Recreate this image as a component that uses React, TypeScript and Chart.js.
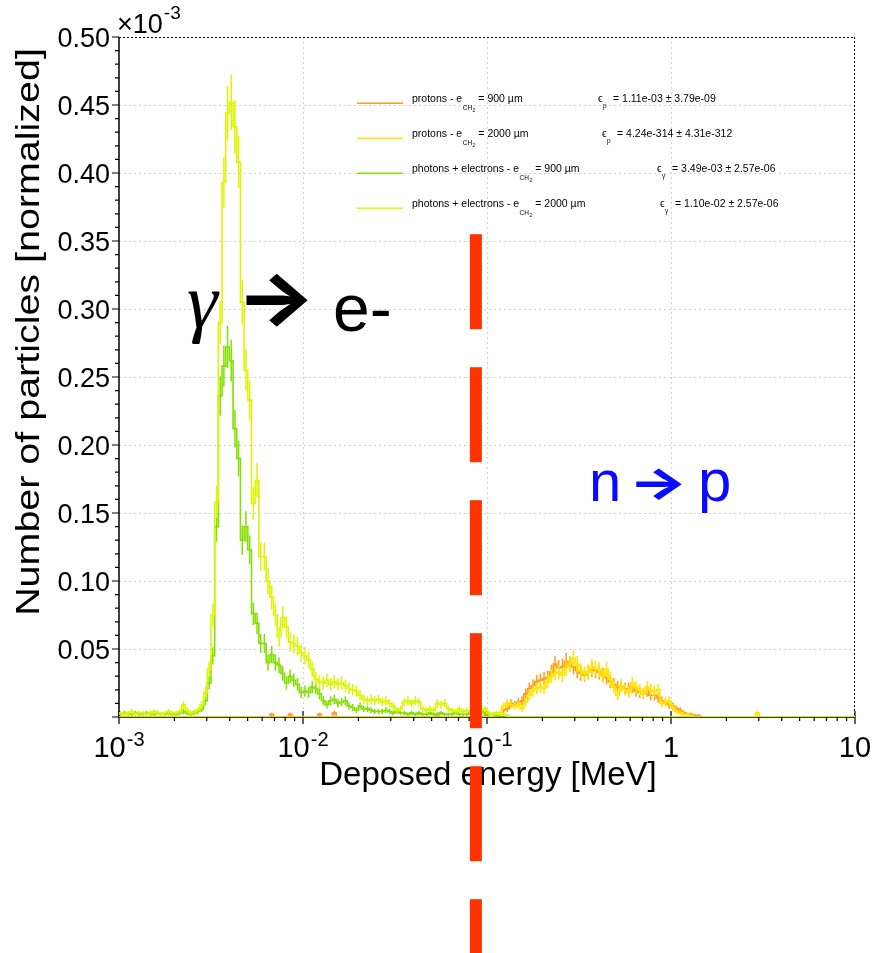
import React, { useEffect, useRef } from "react";
import { Chart, registerables } from "chart.js";

Chart.register(...registerables);

// ---- Histogram binning (log energy, MeV) ----
const LOG_E_MIN = -3;
const BINS_PER_DECADE = 50;
const N_BINS = 200;

// ---- Series values (x1e-3, normalized), one value per bin starting at *Start ----
const photons2000Start = 0;
const photons2000 = [
  0.003, 0.002, 0.003, 0.004, 0.002, 0.003, 0.003, 0.002, 0.003, 0.004,
  0.003, 0.002, 0.003, 0.004, 0.003, 0.003, 0.004, 0.009, 0.005, 0.003,
  0.004, 0.005, 0.009, 0.018, 0.035, 0.075, 0.158, 0.29, 0.393, 0.444,
  0.452, 0.434, 0.408, 0.305, 0.255, 0.233, 0.157, 0.174, 0.118, 0.118,
  0.1, 0.088, 0.075, 0.059, 0.073, 0.066, 0.055, 0.054, 0.052, 0.047,
  0.045, 0.042, 0.035, 0.028, 0.026, 0.025, 0.027, 0.024, 0.026, 0.024,
  0.025, 0.023, 0.021, 0.02, 0.019, 0.016, 0.013, 0.012, 0.013, 0.012,
  0.013, 0.011, 0.012, 0.01, 0.008, 0.005, 0.006, 0.011, 0.012, 0.01,
  0.012, 0.011, 0.006, 0.005, 0.006, 0.005, 0.01, 0.009, 0.01, 0.006,
  0.005, 0.004, 0.006, 0.004, 0.005, 0.004, 0.003, 0.004, 0.005, 0.006,
  0.003, 0.002, 0.003, 0.002, 0.002, 0.001,
];

const photons900Start = 0;
const photons900 = [
  0.002, 0.003, 0.002, 0.002, 0.003, 0.002, 0.002, 0.003, 0.002, 0.002,
  0.003, 0.002, 0.002, 0.003, 0.002, 0.002, 0.003, 0.004, 0.003, 0.002,
  0.003, 0.004, 0.006, 0.012, 0.025, 0.045, 0.14, 0.236, 0.258, 0.272,
  0.262, 0.212, 0.19, 0.13, 0.14, 0.123, 0.076, 0.069, 0.054, 0.054,
  0.04, 0.046, 0.04, 0.038, 0.032, 0.025, 0.03, 0.027, 0.024, 0.018,
  0.019, 0.018, 0.022, 0.021, 0.017, 0.012, 0.009, 0.012, 0.013, 0.01,
  0.011, 0.012, 0.008, 0.007, 0.005, 0.008, 0.006, 0.006, 0.005, 0.004,
  0.004, 0.004, 0.005, 0.004, 0.003, 0.004, 0.003, 0.003, 0.002, 0.003,
  0.002, 0.003, 0.002, 0.002, 0.003, 0.002, 0.002, 0.003, 0.002, 0.002,
  0.002, 0.003, 0.002, 0.002, 0.002, 0.003, 0.002, 0.003, 0.004, 0.003,
  0.002, 0.002, 0.001,
];

const protons900Start = 40;
const protons900 = [
  0, 0.002, 0, 0, 0, 0, 0.002, 0, 0, 0,
  0, 0, 0, 0, 0.002, 0, 0, 0, 0.003, 0,
  0, 0, 0, 0, 0, 0, 0, 0, 0, 0,
  0, 0, 0, 0, 0, 0, 0, 0, 0, 0,
  0, 0, 0, 0, 0, 0, 0.002, 0, 0, 0,
  0, 0, 0, 0, 0, 0, 0, 0, 0, 0.001,
  0, 0, 0, 0.002, 0.005, 0.006, 0.01, 0.009, 0.011, 0.012,
  0.017, 0.021, 0.023, 0.026, 0.027, 0.028, 0.029, 0.033, 0.039, 0.036,
  0.037, 0.041, 0.039, 0.037, 0.034, 0.032, 0.031, 0.033, 0.035, 0.034,
  0.033, 0.031, 0.029, 0.026, 0.024, 0.022, 0.023, 0.021, 0.021, 0.022,
  0.019, 0.018, 0.017, 0.019, 0.016, 0.016, 0.014, 0.012, 0.011, 0.009,
  0.008, 0.006, 0.005, 0.003, 0.002, 0.002, 0.001, 0.001,
];

const protons2000Start = 100;
const protons2000 = [
  0, 0, 0, 0.003, 0.008, 0.01, 0.009, 0.008, 0.009, 0.006,
  0.011, 0.016, 0.019, 0.021, 0.022, 0.021, 0.026, 0.03, 0.032, 0.033,
  0.031, 0.036, 0.039, 0.043, 0.039, 0.034, 0.032, 0.033, 0.037, 0.036,
  0.035, 0.03, 0.035, 0.028, 0.022, 0.016, 0.023, 0.02, 0.018, 0.025,
  0.022, 0.02, 0.017, 0.022, 0.02, 0.019, 0.02, 0.01, 0.011, 0.012,
  0.007, 0.004, 0.003, 0.002, 0.002, 0.001, 0, 0, 0, 0,
  0, 0, 0, 0, 0, 0, 0, 0, 0, 0,
  0, 0, 0, 0.003, 0,
];

// Poisson-like error scale (x1e-3 units)
const ERR_SCALE = 0.03;

// ---- Legend / labels ----
const seriesParticles = ["protons", "protons", "photons + electrons", "photons + electrons"];
const seriesThickness = ["900", "2000", "900", "2000"];
const seriesEpsSub = ["p", "p", "γ", "γ"];
const seriesEpsText = [
  "= 1.11e-03 ± 3.79e-09",
  "= 4.24e-314 ± 4.31e-312",
  "= 3.49e-03 ± 2.57e-06",
  "= 1.10e-02 ± 2.57e-06",
];
const seriesColors = ["#ff9c1a", "#ffe600", "#84e000", "#dcf600"];

const yTickValues = [0.05, 0.1, 0.15, 0.2, 0.25, 0.3, 0.35, 0.4, 0.45, 0.5];
const yTickLabels = ["0.05", "0.10", "0.15", "0.20", "0.25", "0.30", "0.35", "0.40", "0.45", "0.50"];
const xTickValues = [0.001, 0.01, 0.1, 1, 10];
const xTickBase = ["10", "10", "10", "1", "10"];
const xTickExp = ["-3", "-2", "-1", "", ""];
const xGridValues = [0.01, 0.1, 1];

const xTitle = "Deposed energy [MeV]";
const yTitle = "Number of particles [normalized]";

const markerEnergy = 0.087; // red dashed separator (MeV)
const markerTop = 0.355;

// ---- helpers ----
const edge = (i: number) => Math.pow(10, LOG_E_MIN + i / BINS_PER_DECADE);
const center = (i: number) => Math.pow(10, LOG_E_MIN + (i + 0.5) / BINS_PER_DECADE);

function fullSeries(start: number, vals: number[]) {
  const a = new Array(N_BINS).fill(0);
  vals.forEach((v, k) => {
    if (start + k < N_BINS) a[start + k] = v;
  });
  return a as number[];
}

const seriesFull = [
  fullSeries(protons900Start, protons900),
  fullSeries(protons2000Start, protons2000),
  fullSeries(photons900Start, photons900),
  fullSeries(photons2000Start, photons2000),
];

function stepPoints(vals: number[]) {
  const pts = vals.map((v, i) => ({ x: edge(i), y: v }));
  pts.push({ x: edge(N_BINS), y: vals[N_BINS - 1] });
  return pts;
}

const SANS = "'Liberation Sans', Arial, Helvetica, sans-serif";
const ARROW_FONT = "Inter, 'DejaVu Sans', sans-serif";

function txt(
  ctx: CanvasRenderingContext2D,
  s: string,
  x: number,
  y: number,
  font: string,
  color: string,
  align: CanvasTextAlign = "left",
  sx = 1,
  sy = 1
) {
  ctx.save();
  ctx.font = font;
  ctx.fillStyle = color;
  ctx.textAlign = align;
  ctx.textBaseline = "alphabetic";
  ctx.translate(x, y);
  ctx.scale(sx, sy);
  ctx.fillText(s, 0, 0);
  ctx.restore();
}

function width(ctx: CanvasRenderingContext2D, s: string, font: string) {
  ctx.save();
  ctx.font = font;
  const w = ctx.measureText(s).width;
  ctx.restore();
  return w;
}

const rootPlugin = {
  id: "rootStyle",
  beforeDatasetsDraw(chart: any) {
    const { ctx, chartArea: a, scales } = chart;
    const xs = scales.x;
    const ys = scales.y;
    ctx.save();
    // grid
    ctx.lineWidth = 1;
    ctx.strokeStyle = "#d2d2d2";
    ctx.setLineDash([2, 3]);
    ctx.beginPath();
    for (const v of yTickValues) {
      if (v >= 0.5) continue;
      const y = Math.round(ys.getPixelForValue(v)) + 0.5;
      ctx.moveTo(a.left, y);
      ctx.lineTo(a.right, y);
    }
    for (const v of xGridValues) {
      const x = Math.round(xs.getPixelForValue(v)) + 0.5;
      ctx.moveTo(x, a.top);
      ctx.lineTo(x, a.bottom);
    }
    ctx.stroke();
    // dotted frame top / right
    ctx.strokeStyle = "#000";
    ctx.setLineDash([2, 2]);
    ctx.beginPath();
    ctx.moveTo(a.left, a.top + 0.5);
    ctx.lineTo(a.right, a.top + 0.5);
    ctx.moveTo(a.right - 0.5, a.top);
    ctx.lineTo(a.right - 0.5, a.bottom);
    ctx.stroke();
    // solid axes
    ctx.setLineDash([]);
    ctx.lineWidth = 1.5;
    ctx.beginPath();
    ctx.moveTo(a.left, a.top);
    ctx.lineTo(a.left, a.bottom);
    ctx.moveTo(a.left, a.bottom);
    ctx.lineTo(a.right, a.bottom);
    ctx.stroke();
    // y ticks (outside, left)
    ctx.lineWidth = 1.2;
    ctx.beginPath();
    for (let k = 0; k <= 50; k++) {
      const v = k / 100;
      const y = ys.getPixelForValue(v);
      const len = k % 5 === 0 ? 7 : 4;
      ctx.moveTo(a.left - len, y);
      ctx.lineTo(a.left, y);
    }
    // x ticks
    for (let d = -3; d <= 1; d++) {
      const x = xs.getPixelForValue(Math.pow(10, d));
      ctx.moveTo(x, a.bottom - 6);
      ctx.lineTo(x, a.bottom + 7);
      if (d < 1) {
        for (let m = 2; m <= 9; m++) {
          const xm = xs.getPixelForValue(m * Math.pow(10, d));
          ctx.moveTo(xm, a.bottom);
          ctx.lineTo(xm, a.bottom + 4);
        }
      }
    }
    ctx.stroke();
    ctx.restore();
  },
  afterDatasetDraw(chart: any, args: any) {
    const { ctx, chartArea: a, scales } = chart;
    const k = args.index;
    const vals = seriesFull[k];
    const xs = scales.x;
    const ys = scales.y;
    ctx.save();
    ctx.beginPath();
    ctx.rect(a.left, a.top, a.right - a.left, a.bottom - a.top);
    ctx.clip();
    ctx.strokeStyle = seriesColors[k];
    ctx.lineWidth = 1.5;
    ctx.beginPath();
    vals.forEach((v, i) => {
      if (v <= 0) return;
      const e = ERR_SCALE * Math.sqrt(v);
      const x = xs.getPixelForValue(center(i));
      ctx.moveTo(x, ys.getPixelForValue(v + e));
      ctx.lineTo(x, ys.getPixelForValue(Math.max(0, v - e)));
    });
    ctx.stroke();
    ctx.restore();
  },
  afterDraw(chart: any) {
    const { ctx, chartArea: a, scales } = chart;
    const xs = scales.x;
    const ys = scales.y;
    const tickFont = `27px ${SANS}`;
    const expFont = `19px ${SANS}`;

    // y tick labels
    yTickValues.forEach((v, k) => {
      const y = ys.getPixelForValue(v);
      txt(ctx, yTickLabels[k], a.left - 9, y + 10, tickFont, "#000", "right");
    });
    // x10^-3
    txt(ctx, "×10", a.left - 2, 33, tickFont, "#000");
    txt(ctx, "-3", a.left - 2 + width(ctx, "×10", tickFont) + 1, 19, expFont, "#000");

    // x tick labels
    const xFont = `29px ${SANS}`;
    const xExpFont = `20px ${SANS}`;
    xTickValues.forEach((v, k) => {
      const x = xs.getPixelForValue(v);
      const wb = width(ctx, xTickBase[k], xFont);
      const we = xTickExp[k] ? width(ctx, xTickExp[k], xExpFont) + 1 : 0;
      const x0 = x - (wb + we) / 2;
      txt(ctx, xTickBase[k], x0, 757, xFont, "#000");
      if (xTickExp[k]) txt(ctx, xTickExp[k], x0 + wb + 1, 746, xExpFont, "#000");
    });

    // axis titles
    txt(ctx, xTitle, (a.left + a.right) / 2 + 1, 785, `33px ${SANS}`, "#000", "center");
    ctx.save();
    ctx.translate(39, 332);
    ctx.rotate(-Math.PI / 2);
    ctx.scale(1.16, 1);
    ctx.font = `34px ${SANS}`;
    ctx.fillStyle = "#000";
    ctx.textAlign = "center";
    ctx.textBaseline = "alphabetic";
    ctx.fillText(yTitle, 0, 0);
    ctx.restore();

    // legend
    const mainF = `10.5px ${SANS}`;
    const subF = `6.5px ${SANS}`;
    const sub2F = `5px ${SANS}`;
    const epsX = [598, 602, 657, 660];
    for (let k = 0; k < 4; k++) {
      const ly = 103.3 + k * 35;
      ctx.save();
      ctx.strokeStyle = seriesColors[k];
      ctx.lineWidth = 1.5;
      ctx.beginPath();
      ctx.moveTo(357, ly);
      ctx.lineTo(403, ly);
      ctx.stroke();
      ctx.restore();
      const base = ly - 1.8;
      let x = 412;
      const s1 = `${seriesParticles[k]} - e`;
      txt(ctx, s1, x, base, mainF, "#000");
      x += width(ctx, s1, mainF) + 0.5;
      txt(ctx, "CH", x, base + 8.5, subF, "#000");
      x += width(ctx, "CH", subF) + 0.5;
      txt(ctx, "2", x, base + 10, sub2F, "#000");
      x += width(ctx, "2", sub2F) + 3;
      txt(ctx, `= ${seriesThickness[k]} µm`, x, base, mainF, "#000");
      txt(ctx, "ϵ", epsX[k], base, mainF, "#000");
      txt(ctx, seriesEpsSub[k], epsX[k] + 5, base + 6, subF, "#000");
      txt(ctx, seriesEpsText[k], epsX[k] + 15, base, mainF, "#000");
    }

    // annotations
    txt(ctx, "γ", 187, 327, `italic 78px 'Liberation Serif', 'DejaVu Serif', serif`, "#000");
    // arrow: centre the glyph on the wanted box
    const drawArrow = (cx: number, cy: number, w: number, h: number, color: string) => {
      const f = `800 100px ${ARROW_FONT}`;
      ctx.save();
      ctx.font = f;
      const m = ctx.measureText("→");
      const gw = m.actualBoundingBoxRight + m.actualBoundingBoxLeft;
      const gh = m.actualBoundingBoxAscent + m.actualBoundingBoxDescent;
      const sx = w / (gw || 1);
      const sy = h / (gh || 1);
      ctx.translate(cx, cy);
      ctx.scale(sx, sy);
      ctx.fillStyle = color;
      ctx.textBaseline = "alphabetic";
      ctx.textAlign = "left";
      const ox = -(m.actualBoundingBoxRight - m.actualBoundingBoxLeft) / 2;
      const oy = (m.actualBoundingBoxAscent - m.actualBoundingBoxDescent) / 2;
      ctx.fillText("→", ox, oy);
      ctx.restore();
    };
    drawArrow(277, 300, 62, 54, "#000");
    txt(ctx, "e-", 333, 331, `66px ${SANS}`, "#000");
    const blue = "#0a0aff";
    txt(ctx, "n", 589, 501, `58px ${SANS}`, blue);
    drawArrow(659, 485, 46, 32, blue);
    txt(ctx, "p", 698, 501, `60px ${SANS}`, blue);

    // red dashed separator (drawn as explicit dash rectangles)
    const rx = xs.getPixelForValue(markerEnergy);
    const ry = ys.getPixelForValue(markerTop);
    const DASH = 95;
    const GAP = 38;
    ctx.save();
    ctx.fillStyle = "#ff3300";
    for (let y = ry; y < chart.height; y += DASH + GAP) {
      const h = Math.min(DASH, chart.height - y);
      ctx.fillRect(rx - 6, y, 12, h);
    }
    ctx.restore();
  },
};

export default function App() {
  const ref = useRef<HTMLCanvasElement | null>(null);
  useEffect(() => {
    if (!ref.current) return;
    const drawOrder = [3, 2, 1, 0];
    const chart = new Chart(ref.current, {
      type: "line",
      data: {
        datasets: seriesFull.map((vals, k) => ({
          label: `${seriesParticles[k]} ${seriesThickness[k]}`,
          data: stepPoints(vals),
          borderColor: seriesColors[k],
          backgroundColor: seriesColors[k],
          borderWidth: 1.6,
          pointRadius: 0,
          stepped: "before" as const,
          fill: false,
          order: drawOrder[k],
        })),
      },
      options: {
        responsive: false,
        maintainAspectRatio: false,
        animation: false,
        devicePixelRatio: 1,
        events: [],
        layout: { padding: { top: 37, right: 20, left: 0, bottom: 0 } },
        plugins: { legend: { display: false }, tooltip: { enabled: false } },
        scales: {
          x: {
            type: "logarithmic",
            min: 0.001,
            max: 10,
            grid: { display: false },
            border: { display: false },
            ticks: { display: false },
            afterFit: (s: any) => {
              s.height = 236;
            },
          },
          y: {
            type: "linear",
            min: 0,
            max: 0.5,
            grid: { display: false },
            border: { display: false },
            ticks: { display: false },
            afterFit: (s: any) => {
              s.width = 119;
            },
          },
        },
      },
      plugins: [rootPlugin],
    } as any);
    return () => chart.destroy();
  }, []);
  return (
    <div style={{ position: "absolute", left: 0, top: 0, width: 875, height: 953, background: "#fff" }}>
      <canvas ref={ref} width={875} height={953} style={{ display: "block" }} />
    </div>
  );
}
